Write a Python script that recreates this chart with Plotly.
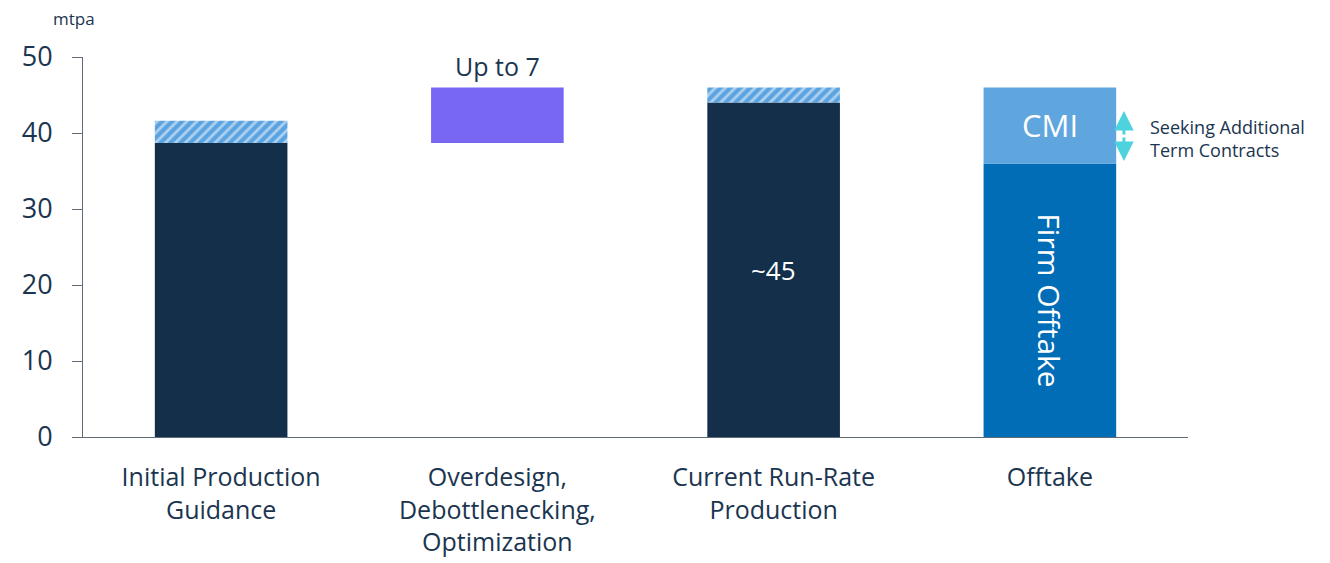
import plotly.graph_objects as go

categories = ["Initial Production<br>Guidance", "Overdesign,<br>Debottlenecking,<br>Optimization",
              "Current Run-Rate<br>Production", "Offtake"]
base_prod = [38.7, None, 44.0, None]          # solid dark production
upside = [2.9, None, 2.0, None]               # hatched upside
overdesign_base = 38.7
overdesign = [None, 7.3, None, None]
firm_offtake = [None, None, None, 36.0]
cmi = [None, None, None, 10.0]
y_ticks = [0, 10, 20, 30, 40, 50]

NAVY = "#132F4A"
TXT = "#1B3550"
FONT = "Open Sans"

fig = go.Figure()
fig.add_trace(go.Bar(x=categories, y=base_prod, marker=dict(color=NAVY, line=dict(width=0)),
                     width=0.48, showlegend=False, hoverinfo="skip"))
fig.add_trace(go.Bar(x=categories, y=upside, base=base_prod,
                     marker=dict(color="#5BA3E0", line=dict(width=0),
                                 pattern=dict(shape="/", fgcolor="white", fillmode="overlay",
                                              size=7, solidity=0.4)),
                     width=0.48, showlegend=False, hoverinfo="skip"))
fig.add_trace(go.Bar(x=categories, y=overdesign, base=[overdesign_base] * 4,
                     marker=dict(color="#7767F2", line=dict(width=0)),
                     width=0.48, showlegend=False, hoverinfo="skip"))
fig.add_trace(go.Bar(x=categories, y=firm_offtake, marker=dict(color="#006DB6", line=dict(width=0)),
                     width=0.48, showlegend=False, hoverinfo="skip"))
fig.add_trace(go.Bar(x=categories, y=cmi, base=firm_offtake,
                     marker=dict(color="#5FA5DE", line=dict(width=0)),
                     width=0.48, showlegend=False, hoverinfo="skip"))

ann = []
# ~45 label
ann.append(dict(x=categories[2], y=base_prod[2] / 2, text="~45", showarrow=False,
                font=dict(family=FONT, size=26, color="white")))
# Up to 7
ann.append(dict(x=categories[1], y=overdesign_base + overdesign[1], text="Up to 7", showarrow=False,
                yanchor="bottom", yshift=2, font=dict(family=FONT, size=25, color=TXT)))
# CMI
ann.append(dict(x=categories[3], y=firm_offtake[3] + cmi[3] / 2, text="CMI", showarrow=False,
                font=dict(family=FONT, size=31, color="white")))
# Firm Offtake
ann.append(dict(x=categories[3], y=firm_offtake[3] / 2, text="Firm Offtake", showarrow=False,
                textangle=90, font=dict(family=FONT, size=30, color="white")))
# mtpa
ann.append(dict(xref="paper", yref="paper", x=-0.008, y=1.1, text="mtpa", showarrow=False,
                xanchor="center", yanchor="middle", font=dict(family=FONT, size=17, color=TXT)))
# Seeking additional
ann.append(dict(x=3.355, y=39.3, xref="x", yref="y", text="Seeking Additional<br>Term Contracts",
                showarrow=False, xanchor="left", align="left",
                font=dict(family=FONT, size=18, color=TXT)))
# double arrow
mid = firm_offtake[3] + cmi[3] * 0.36
for tip in [firm_offtake[3] + cmi[3] * 0.69, firm_offtake[3] + cmi[3] * 0.03]:
    ann.append(dict(x=3.268, y=tip, ax=3.268, ay=mid, xref="x", yref="y", axref="x", ayref="y",
                    showarrow=True, arrowhead=2, arrowsize=1.3, arrowwidth=3, arrowcolor="#4DD3DE",
                    standoff=0, startstandoff=0, text=""))

fig.update_layout(
    barmode="overlay",
    width=1330, height=563,
    margin=dict(l=75, r=150, t=49, b=134, autoexpand=False),
    plot_bgcolor="white", paper_bgcolor="white",
    font=dict(family=FONT, color=TXT),
    annotations=ann,
    xaxis=dict(type="category", range=[-0.5, 3.5], showgrid=False, showline=True,
               linecolor="#5F6B77", linewidth=1, ticks="", zeroline=False,
               ticklabelstandoff=18, automargin=False,
               tickfont=dict(family=FONT, size=25, color=TXT)),
    yaxis=dict(range=[0, 50], tickvals=y_ticks, showgrid=False, showline=True,
               linecolor="#5F6B77", linewidth=1, ticks="outside", ticklen=10,
               tickcolor="#5F6B77", zeroline=False, ticklabelstandoff=14, automargin=False,
               tickfont=dict(family=FONT, size=27, color=TXT)),
)
fig.write_html("out.html")
